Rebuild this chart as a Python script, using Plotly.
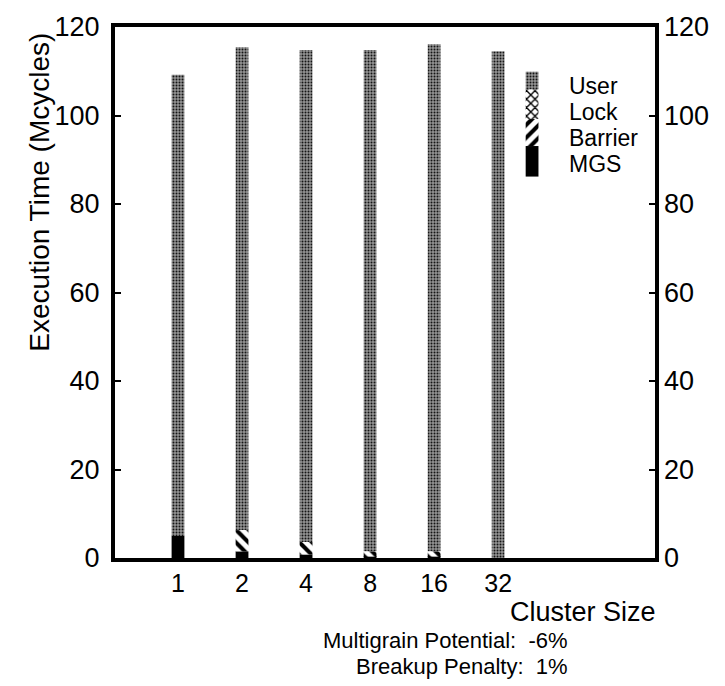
import plotly.graph_objects as go

# ---- data ----
clusters = ["1", "2", "4", "8", "16", "32"]
mgs = [5.0, 1.5, 0.8, 0.3, 0.3, 0.0]
barrier = [0.0, 4.8, 2.8, 1.2, 1.2, 0.0]
lock = [0.0, 0.0, 0.0, 0.0, 0.0, 0.0]
total = [109.2, 115.4, 114.8, 114.8, 116.1, 114.5]
user = [t - m - b - l for t, m, b, l in zip(total, mgs, barrier, lock)]

yticks = [0, 20, 40, 60, 80, 100, 120]
legend_names = ["User", "Lock", "Barrier", "MGS"]

FONT = "Liberation Sans, Arial, sans-serif"
xpos = list(range(1, len(clusters) + 1))

styles = {
    "MGS": dict(color="black"),
    "Barrier": dict(color="white", pattern=dict(shape="\\", fgcolor="black", bgcolor="white",
                                                fgopacity=1, size=9, solidity=0.45)),
    "Lock": dict(color="white", pattern=dict(shape="x", fgcolor="black", bgcolor="white",
                                             fgopacity=1, size=6, solidity=0.4)),
    "User": dict(color="#8c8c8c", pattern=dict(shape=".", fgcolor="#151515", bgcolor="#959595",
                                               fgopacity=1, size=3, solidity=0.35)),
}

fig = go.Figure()

series = [("MGS", mgs), ("Barrier", barrier), ("Lock", lock), ("User", user)]
base = [0.0] * len(xpos)
for name, vals in series:
    fig.add_trace(go.Bar(
        x=xpos, y=vals, base=list(base), name=name, width=0.2,
        marker=dict(line=dict(width=0), **styles[name]), showlegend=False,
    ))
    base = [b + v for b, v in zip(base, vals)]

# legend key bar (stacked swatch)
leg_x = 6.53
leg_segments = [("MGS", 86.2, 93.1), ("Barrier", 93.1, 99.2), ("Lock", 99.2, 105.9), ("User", 105.9, 109.9)]
for name, lo, hi in leg_segments:
    st = dict(styles[name])
    if name == "Barrier":
        st = dict(color="white", pattern=dict(shape="/", fgcolor="black", bgcolor="white",
                                              fgopacity=1, size=9, solidity=0.45))
    fig.add_trace(go.Bar(
        x=[leg_x], y=[hi - lo], base=[lo], width=0.2,
        marker=dict(line=dict(width=0), **st), showlegend=False, hoverinfo="skip",
    ))

# invisible trace for right axis
fig.add_trace(go.Scatter(x=[leg_x], y=[0], yaxis="y2", mode="markers",
                         marker=dict(opacity=0), showlegend=False, hoverinfo="skip"))

# legend labels
leg_label_y = [106.7, 100.8, 94.9, 89.0]
for txt, yy in zip(legend_names, leg_label_y):
    fig.add_annotation(x=0.837, xref="paper", y=yy, yref="y", text=txt, showarrow=False,
                       xanchor="left", yanchor="middle", font=dict(size=23, color="black", family=FONT))

fig.add_annotation(x=1.006, xref="paper", y=-0.101, yref="paper", text="Cluster Size", showarrow=False,
                   xanchor="right", yanchor="middle", font=dict(size=27, color="black", family=FONT))
fig.add_annotation(x=0.842, xref="paper", y=-0.155, yref="paper", text="Multigrain Potential:  -6%",
                   showarrow=False, xanchor="right", yanchor="middle",
                   font=dict(size=22, color="black", family=FONT))
fig.add_annotation(x=0.842, xref="paper", y=-0.205, yref="paper", text="Breakup Penalty:  1%",
                   showarrow=False, xanchor="right", yanchor="middle",
                   font=dict(size=22, color="black", family=FONT))
fig.add_annotation(x=-0.139, xref="paper", y=0.994, yref="paper", text="Execution Time (Mcycles)",
                   showarrow=False, textangle=-90, xanchor="center", yanchor="top",
                   font=dict(size=28, color="black", family=FONT))

fig.update_layout(
    width=725, height=686,
    margin=dict(l=115, r=70, t=22, b=128),
    paper_bgcolor="white", plot_bgcolor="white",
    barmode="overlay",
    font=dict(family=FONT, size=27, color="black"),
    xaxis=dict(range=[0.016, 8.45], tickmode="array", tickvals=xpos, ticktext=clusters,
               showline=True, linecolor="black", linewidth=4, mirror=True,
               ticks="", showgrid=False, zeroline=False, tickfont=dict(size=25)),
    yaxis=dict(range=[0, 120], tickvals=yticks, showline=True, linecolor="black", linewidth=4,
               mirror=True, ticks="inside", ticklen=6, tickwidth=1.5, tickcolor="black",
               showgrid=False, zeroline=False, tickfont=dict(size=27), ticklabelstandoff=6),
    yaxis2=dict(range=[0, 120], tickvals=yticks, overlaying="y", side="right", anchor="x",
                ticks="inside", ticklen=6, tickwidth=1.5, tickcolor="black", showgrid=False,
                zeroline=False, showline=False, tickfont=dict(size=27), ticklabelstandoff=8),
)

fig.write_html("out.html")
